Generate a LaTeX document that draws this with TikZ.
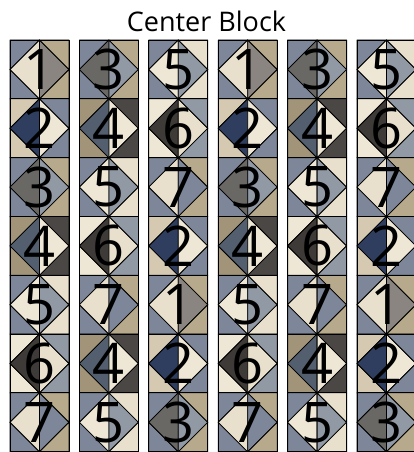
\documentclass[tikz,border=0pt]{standalone}
\usepackage{fontspec}
\setmainfont{Open Sans}
\usepackage{xcolor}
\usepackage{tikz}
\usetikzlibrary{positioning}

\definecolor{bluegray}{HTML}{7D8799}
\definecolor{cream}{HTML}{E8E0CC}
\definecolor{creamlt}{HTML}{EEE7D6}
\definecolor{graymid}{HTML}{8A8580}
\definecolor{tan}{HTML}{B7A98B}
\definecolor{beige}{HTML}{D6C9B2}
\definecolor{navy}{HTML}{2F3D5E}
\definecolor{darkgray}{HTML}{6A6865}
\definecolor{lightblue}{HTML}{9199A5}
\definecolor{khaki}{HTML}{A19479}
\definecolor{slate}{HTML}{535E6E}
\definecolor{charcoal}{HTML}{4A4745}
\definecolor{ink}{HTML}{3D3A37}

% a = left corners, b = left half of diamond, c = right half, d = right corners
\colorlet{q1a}{bluegray}\colorlet{q1b}{cream}\colorlet{q1c}{graymid}\colorlet{q1d}{tan}
\colorlet{q2a}{beige}\colorlet{q2b}{navy}\colorlet{q2c}{creamlt}\colorlet{q2d}{bluegray}
\colorlet{q3a}{bluegray}\colorlet{q3b}{darkgray}\colorlet{q3c}{lightblue}\colorlet{q3d}{tan}
\colorlet{q4a}{khaki}\colorlet{q4b}{slate}\colorlet{q4c}{creamlt}\colorlet{q4d}{charcoal}
\colorlet{q5a}{bluegray}\colorlet{q5b}{creamlt}\colorlet{q5c}{lightblue}\colorlet{q5d}{cream}
\colorlet{q6a}{creamlt}\colorlet{q6b}{ink}\colorlet{q6c}{cream}\colorlet{q6d}{lightblue}
\colorlet{q7a}{bluegray}\colorlet{q7b}{cream}\colorlet{q7c}{bluegray}\colorlet{q7d}{tan}

\newcommand{\qblock}[3]{% left, top, number
  \begin{scope}[shift={(#1,#2)}]
    \filldraw[patch,fill=q#3a] (0,0) -- (29.5,0) -- (0,29.5) -- cycle;
    \filldraw[patch,fill=q#3a] (0,29.5) -- (0,59) -- (29.5,59) -- cycle;
    \filldraw[patch,fill=q#3b] (29.5,0) -- (0,29.5) -- (29.5,59) -- cycle;
    \filldraw[patch,fill=q#3c] (29.5,0) -- (59,29.5) -- (29.5,59) -- cycle;
    \filldraw[patch,fill=q#3d] (29.5,0) -- (59,0) -- (59,29.5) -- cycle;
    \filldraw[patch,fill=q#3d] (59,29.5) -- (59,59) -- (29.5,59) -- cycle;
    \draw[patch] (0,0) rectangle (59,59);
  \end{scope}}

\begin{document}
\begin{tikzpicture}[x=1pt,y=-1pt,
  patch/.style={draw=black,line width=0.8pt,line join=round},
  digit/.style={font=\fontsize{56}{56}\selectfont,inner sep=0pt}]
  \useasboundingbox (0,0) rectangle (413,452);
  \node[font=\fontsize{27}{27}\selectfont] (title) at (206.5,21) {Center Block};
  \foreach \col/\seq in {0/{1,2,3,4,5,6,7},1/{3,4,5,6,7,4,5},2/{5,6,7,2,1,2,3},
                         3/{1,2,3,4,5,6,7},4/{3,4,5,6,7,4,5},5/{5,6,7,2,1,2,3}}
    \foreach \n [count=\row from 0] in \seq {
      \pgfmathsetmacro{\bx}{10+69.4*\col}
      \pgfmathsetmacro{\by}{40+58.8*\row}
      \qblock{\bx}{\by}{\n}
      \node[digit] (num-\col-\row) at (\bx+29.5,\by+29.5) {\n};
    }
\end{tikzpicture}
\end{document}
